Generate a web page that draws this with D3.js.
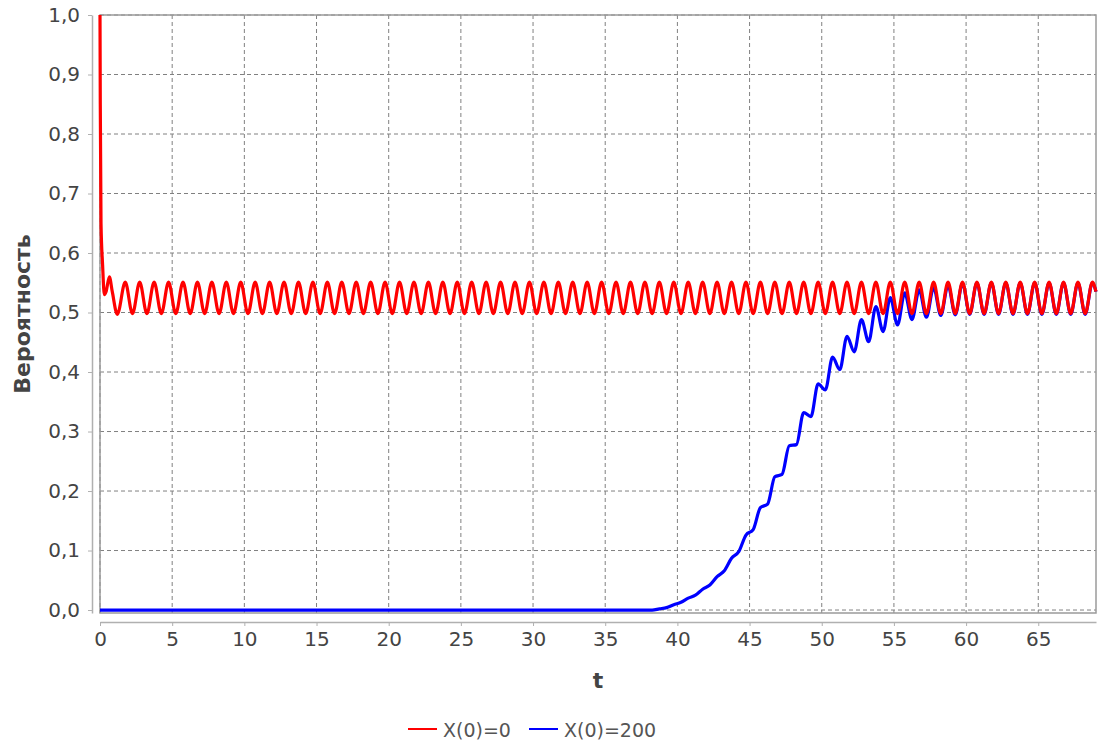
<!DOCTYPE html>
<html><head><meta charset="utf-8">
<script src="https://cdn.jsdelivr.net/npm/d3@7"></script>
<style>body{margin:0;background:#fff}svg{display:block}text{font-family:"DejaVu Sans",sans-serif}</style>
</head><body><svg id="c" width="1100" height="742"></svg>
<script>
const xTicks = [0,5,10,15,20,25,30,35,40,45,50,55,60,65];
const yTicks = [0,0.1,0.2,0.3,0.4,0.5,0.6,0.7,0.8,0.9,1.0];
const seriesNames = ["X(0)=0","X(0)=200"];
const xLabel = "t";
const yLabel = "Вероятность";

const redData = [[0,1.0],[0.02,0.85],[0.07,0.65],[0.18,0.58],[0.3,0.53],[0.42,0.535],[0.65,0.56],[0.85,0.535],[1.2,0.497],
[1.75,0.551],[2.25,0.498],[2.75,0.551],[3.25,0.498],[3.75,0.551],[4.25,0.498],[4.75,0.551],[5.25,0.498],[5.75,0.551],[6.25,0.498],
[6.75,0.551],[7.25,0.498],[7.75,0.551],[8.25,0.498],[8.75,0.551],[9.25,0.498],[9.75,0.551],[10.25,0.498],[10.75,0.551],[11.25,0.498],
[11.75,0.551],[12.25,0.498],[12.75,0.551],[13.25,0.498],[13.75,0.551],[14.25,0.498],[14.75,0.551],[15.25,0.498],[15.75,0.551],[16.25,0.498],
[16.75,0.551],[17.25,0.498],[17.75,0.551],[18.25,0.498],[18.75,0.551],[19.25,0.498],[19.75,0.551],[20.25,0.498],[20.75,0.551],[21.25,0.498],
[21.75,0.551],[22.25,0.498],[22.75,0.551],[23.25,0.498],[23.75,0.551],[24.25,0.498],[24.75,0.551],[25.25,0.498],[25.75,0.551],[26.25,0.498],
[26.75,0.551],[27.25,0.498],[27.75,0.551],[28.25,0.498],[28.75,0.551],[29.25,0.498],[29.75,0.551],[30.25,0.498],[30.75,0.551],[31.25,0.498],
[31.75,0.551],[32.25,0.498],[32.75,0.551],[33.25,0.498],[33.75,0.551],[34.25,0.498],[34.75,0.551],[35.25,0.498],[35.75,0.551],[36.25,0.498],
[36.75,0.551],[37.25,0.498],[37.75,0.551],[38.25,0.498],[38.75,0.551],[39.25,0.498],[39.75,0.551],[40.25,0.498],[40.75,0.551],[41.25,0.498],
[41.75,0.551],[42.25,0.498],[42.75,0.551],[43.25,0.498],[43.75,0.551],[44.25,0.498],[44.75,0.551],[45.25,0.498],[45.75,0.551],[46.25,0.498],
[46.75,0.551],[47.25,0.498],[47.75,0.551],[48.25,0.498],[48.75,0.551],[49.25,0.498],[49.75,0.551],[50.25,0.498],[50.75,0.551],[51.25,0.498],
[51.75,0.551],[52.25,0.498],[52.75,0.551],[53.25,0.498],[53.75,0.551],[54.25,0.498],[54.75,0.551],[55.25,0.498],[55.75,0.551],[56.25,0.498],
[56.75,0.551],[57.25,0.498],[57.75,0.551],[58.25,0.498],[58.75,0.551],[59.25,0.498],[59.75,0.551],[60.25,0.498],[60.75,0.551],[61.25,0.498],
[61.75,0.551],[62.25,0.498],[62.75,0.551],[63.25,0.498],[63.75,0.551],[64.25,0.498],[64.75,0.551],[65.25,0.498],[65.75,0.551],[66.25,0.498],
[66.75,0.551],[67.25,0.498],[67.75,0.551],[68.25,0.498],[68.75,0.551],[69,0.535]];

const blueData = [[0,0],[38,0],[38.25,0.000],[38.75,0.002],[39.25,0.004],[39.75,0.009],[40.25,0.013],[40.75,0.020],[41.25,0.025],
[41.75,0.035],[42.25,0.042],[42.75,0.056],[43.25,0.066],[43.75,0.087],[44.25,0.098],[44.75,0.126],[45.25,0.135],[45.75,0.172],
[46.25,0.178],[46.75,0.224],[47.25,0.228],[47.75,0.276],[48.25,0.278],[48.75,0.332],[49.25,0.325],[49.75,0.380],[50.25,0.370],
[50.75,0.425],[51.25,0.404],[51.75,0.460],[52.25,0.434],[52.75,0.488],[53.25,0.451],[53.75,0.510],[54.25,0.468],[54.75,0.525],
[55.25,0.479],[55.75,0.533],[56.25,0.488],[56.75,0.538],[57.25,0.492],[57.75,0.542],[58.25,0.495],[58.75,0.546],[59.25,0.496],
[59.75,0.549],[60.25,0.497],[60.75,0.550],[61.25,0.497],[61.75,0.550],[62.25,0.497],[62.75,0.550],[63.25,0.497],[63.75,0.550],
[64.25,0.497],[64.75,0.550],[65.25,0.497],[65.75,0.550],[66.25,0.497],[66.75,0.550],[67.25,0.497],[67.75,0.550],[68.25,0.497],
[68.75,0.550],[69,0.535]];

const colors = ["#ff0000","#0000ff"];

const svg = d3.select("#c");
const L=100, R=1096, T=15, B=613;
const x = d3.scaleLinear().domain([0,69]).range([L,R]);
const y = d3.scaleLinear().domain([-0.005,1.0]).range([B,T]);
const fmt = d => d3.format(".1f")(d).replace(".",",");

// grid
const g = svg.append("g");
g.selectAll("line.vx").data(xTicks).join("line")
 .attr("x1",d=>x(d)).attr("x2",d=>x(d)).attr("y1",T).attr("y2",B)
 .attr("stroke","#808080").attr("stroke-width",1).attr("stroke-dasharray","4,3");
g.selectAll("line.hy").data(yTicks).join("line")
 .attr("y1",d=>y(d)).attr("y2",d=>y(d)).attr("x1",L).attr("x2",R)
 .attr("stroke","#808080").attr("stroke-width",1).attr("stroke-dasharray","4,3");

// plot outline
svg.append("rect").attr("x",L).attr("y",T).attr("width",R-L).attr("height",B-T)
 .attr("fill","none").attr("stroke","#9a9a9a").attr("stroke-width",1.5);

// axes
const xAxis = d3.axisBottom(x).tickValues(xTicks).tickFormat(d3.format("d")).tickSizeInner(4).tickSizeOuter(0).tickPadding(6);
const gx = svg.append("g").attr("transform",`translate(0,${B+9})`).call(xAxis);
const yAxis = d3.axisLeft(y).tickValues(yTicks).tickFormat(fmt).tickSizeInner(4).tickSizeOuter(0).tickPadding(8);
const gy = svg.append("g").attr("transform",`translate(${L-8},0)`).call(yAxis);
[gx,gy].forEach(a=>{
  a.select(".domain").attr("stroke","#b0b0b0").attr("stroke-width",1.5);
  a.selectAll(".tick line").attr("stroke","#b0b0b0");
  a.selectAll(".tick text").attr("fill","#444").style("font-size","20px").style("font-family","DejaVu Sans");
});

// lines (red drawn on top)
const line = d3.line().x(d=>x(d[0])).y(d=>y(d[1])).curve(d3.curveMonotoneX);
svg.append("path").datum(blueData).attr("d",line).attr("fill","none").attr("stroke",colors[1]).attr("stroke-width",3.2).attr("stroke-linejoin","round");
svg.append("path").datum(redData).attr("d",line).attr("fill","none").attr("stroke",colors[0]).attr("stroke-width",3.2).attr("stroke-linejoin","round");

// axis labels
svg.append("text").attr("x",(L+R)/2).attr("y",688).attr("text-anchor","middle")
 .attr("fill","#444").style("font-size","22px").style("font-weight","bold").text(xLabel);
svg.append("text").attr("transform",`translate(30,${(T+B)/2}) rotate(-90)`).attr("text-anchor","middle")
 .attr("fill","#444").style("font-size","22px").style("font-weight","bold").text(yLabel);

// legend
const leg = [{x0:408,tx:443},{x0:529,tx:564}];
leg.forEach((p,i)=>{
  svg.append("line").attr("x1",p.x0).attr("x2",p.x0+29).attr("y1",729).attr("y2",729).attr("stroke",colors[i]).attr("stroke-width",2);
  svg.append("text").attr("x",p.tx).attr("y",737).attr("fill","#555").style("font-size","19px").text(seriesNames[i]);
});
</script></body></html>
